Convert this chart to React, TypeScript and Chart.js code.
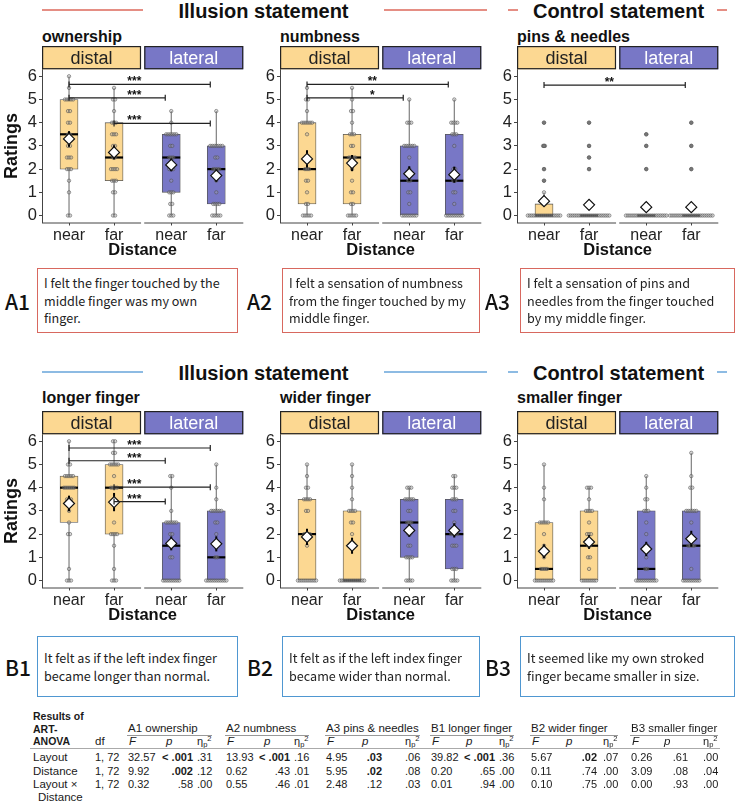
import { useEffect, useRef } from 'react';
import { Chart, registerables } from 'chart.js';

Chart.register(...registerables);

const FONT = "'Liberation Sans', Arial, Helvetica, sans-serif";
const JP_FONT = "'Noto Sans CJK JP', 'Noto Sans', sans-serif";

const DISTAL = '#FCD892';
const LATERAL = '#7877C6';
const RED = '#D8685F';
const RED_LINE = '#E58E84';
const BLUE = '#4F97D1';
const BLUE_LINE = '#8DBBE3';

// Two facets (distal | lateral), each with a near and a far condition
const layoutLabels = ['distal', 'lateral'];
const distanceLabels = ['near', 'far', 'near', 'far'];
const ratingTicks = [0, 1, 2, 3, 4, 5, 6];
const xPositions = [1, 2, 3.27, 4.27];
const facetRanges = [
  [0.4, 2.6],
  [2.67, 4.87],
];

// Ratings, 25 participants per condition
const ownershipDistalNear = [0, 0, 1, 1.5, 2, 2, 2, 2.5, 2.5, 2.5, 3, 3, 3.5, 3.5, 4, 4, 4.5, 4.5, 5, 5, 5, 5, 5, 5.5, 6];
const ownershipDistalFar = [0, 0, 1, 1, 1.5, 1.5, 1.5, 2, 2, 2, 2, 2.5, 2.5, 3, 3, 3.5, 3.5, 3.5, 4, 4, 4, 4.5, 5, 5, 5.5];
const ownershipLateralNear = [0, 0, 0, 0.5, 0.5, 1, 1, 1, 1.5, 2, 2, 2, 2.5, 2.5, 2.5, 3, 3, 3.5, 3.5, 3.5, 3.5, 3.5, 3.5, 4, 4.5];
const ownershipLateralFar = [0, 0, 0, 0, 0, 0.5, 0.5, 0.5, 0.5, 1, 1.5, 2, 2, 2, 2, 2.5, 2.5, 3, 3, 3, 3, 3, 3, 3, 4.5];

const numbnessDistalNear = [0, 0, 0, 0, 0, 0.5, 0.5, 1, 1.5, 1.5, 2, 2, 2, 2.5, 3.5, 4, 4, 4, 4, 4, 4, 4.5, 5, 5, 5.5];
const numbnessDistalFar = [0, 0, 0, 0, 0, 0.5, 0.5, 1, 1, 1.5, 2, 2.5, 2.5, 2.5, 2.5, 3, 3, 3.5, 3.5, 3.5, 4, 4.5, 4.5, 5, 5.5];
const numbnessLateralNear = [0, 0, 0, 0, 0, 0, 0, 0, 0.5, 1, 1, 1.5, 1.5, 2, 2.5, 3, 3, 3, 3, 3, 3, 4, 4, 4, 5];
const numbnessLateralFar = [0, 0, 0, 0, 0, 0, 0, 0, 0, 0.5, 1, 1, 1.5, 1.5, 2, 2, 3, 3.5, 3.5, 3.5, 4, 4, 4, 4, 5];

const pinsDistalNear = [0, 0, 0, 0, 0, 0, 0, 0, 0, 0, 0, 0, 0, 0, 0, 0, 0, 0.5, 0.5, 1, 1.5, 2, 3, 3, 4];
const pinsDistalFar = [0, 0, 0, 0, 0, 0, 0, 0, 0, 0, 0, 0, 0, 0, 0, 0, 0, 0, 0, 0, 0, 2, 2.5, 3, 4];
const pinsLateralNear = [0, 0, 0, 0, 0, 0, 0, 0, 0, 0, 0, 0, 0, 0, 0, 0, 0, 0, 0, 0, 0, 0.5, 2, 3, 3.5];
const pinsLateralFar = [0, 0, 0, 0, 0, 0, 0, 0, 0, 0, 0, 0, 0, 0, 0, 0, 0, 0, 0, 0, 0, 0, 2, 3, 4];

const longerDistalNear = [0, 0, 0, 0.5, 2, 2, 2.5, 3, 3.5, 3.5, 3.5, 4, 4, 4, 4, 4, 4, 4.5, 4.5, 4.5, 4.5, 4.5, 5, 5, 6];
const longerDistalFar = [0, 0, 0, 0.5, 1.5, 2, 2, 2, 2, 2.5, 3.5, 4, 4, 4, 4, 4.5, 5, 5, 5, 5, 5, 5.5, 5.5, 6, 6];
const longerLateralNear = [0, 0, 0, 0, 0, 0, 0, 0, 0, 1, 1, 1.5, 1.5, 2, 2, 2.5, 2.5, 2.5, 2.5, 2.5, 2.5, 3, 4, 4.5, 4.5];
const longerLateralFar = [0, 0, 0, 0, 0, 0, 0, 0, 0, 0, 0, 1, 1, 2, 2.5, 2.5, 3, 3, 3, 3, 3, 3, 3.5, 4, 5];

const widerDistalNear = [0, 0, 0, 0, 0, 0, 0, 0, 0, 0, 1.5, 2, 2, 2, 2, 3, 3, 3.5, 3.5, 3.5, 3.5, 4, 4, 4.5, 5];
const widerDistalFar = [0, 0, 0, 0, 0, 0, 0, 0, 0, 0, 0, 0, 0, 1.5, 2, 2.5, 2.5, 3, 3, 3, 3, 3.5, 4, 4.5, 5];
const widerLateralNear = [0, 0, 0, 0, 1, 1, 1, 1, 1.5, 1.5, 2, 2, 2.5, 2.5, 2.5, 3, 3, 3.5, 3.5, 3.5, 3.5, 3.5, 4, 4, 4];
const widerLateralFar = [0, 0, 0, 0, 0.5, 0.5, 0.5, 1.5, 1.5, 1.5, 2, 2, 2, 2, 2.5, 3, 3, 3.5, 3.5, 3.5, 4, 4, 4, 4.5, 4.5];

const smallerDistalNear = [0, 0, 0, 0, 0, 0, 0, 0, 0, 0, 0.5, 0.5, 0.5, 0.5, 1, 1.5, 2, 2.5, 2.5, 2.5, 2.5, 2.5, 3.5, 4, 5];
const smallerDistalFar = [0, 0, 0, 0, 0, 0, 0, 0, 0.5, 1, 1, 1.5, 1.5, 2, 2, 2, 2.5, 3, 3, 3, 3, 3.5, 4, 4, 4];
const smallerLateralNear = [0, 0, 0, 0, 0, 0, 0, 0, 0, 0, 0, 0.5, 0.5, 1, 1.5, 1.5, 2, 2.5, 3, 3, 3, 3.5, 3.5, 4, 4.5];
const smallerLateralFar = [0, 0, 0, 0, 0, 0, 0, 0, 0, 0.5, 1.5, 1.5, 1.5, 1.5, 2.5, 3, 3, 3, 3, 3, 3, 4, 4, 4.5, 5.5];

type Bracket = { from: number; to: number; y: number; label: string };

// Pairwise comparisons (condition indices, bracket height in rating units)
const ownershipBrackets: Bracket[] = [
  { from: 0, to: 3, y: 5.65, label: '***' },
  { from: 0, to: 2, y: 5.07, label: '***' },
  { from: 1, to: 3, y: 3.97, label: '***' },
];
const numbnessBrackets: Bracket[] = [
  { from: 0, to: 3, y: 5.65, label: '**' },
  { from: 0, to: 2, y: 5.07, label: '*' },
];
const pinsBrackets: Bracket[] = [{ from: 0, to: 3, y: 5.62, label: '**' }];
const longerBrackets: Bracket[] = [
  { from: 0, to: 3, y: 5.71, label: '***' },
  { from: 0, to: 2, y: 5.16, label: '***' },
  { from: 1, to: 3, y: 4.02, label: '***' },
  { from: 1, to: 2, y: 3.4, label: '***' },
];

type PanelDef = { title: string; series: number[][]; brackets: Bracket[] };

const panelsA: PanelDef[] = [
  { title: 'ownership', series: [ownershipDistalNear, ownershipDistalFar, ownershipLateralNear, ownershipLateralFar], brackets: ownershipBrackets },
  { title: 'numbness', series: [numbnessDistalNear, numbnessDistalFar, numbnessLateralNear, numbnessLateralFar], brackets: numbnessBrackets },
  { title: 'pins & needles', series: [pinsDistalNear, pinsDistalFar, pinsLateralNear, pinsLateralFar], brackets: pinsBrackets },
];
const panelsB: PanelDef[] = [
  { title: 'longer finger', series: [longerDistalNear, longerDistalFar, longerLateralNear, longerLateralFar], brackets: longerBrackets },
  { title: 'wider finger', series: [widerDistalNear, widerDistalFar, widerLateralNear, widerLateralFar], brackets: [] },
  { title: 'smaller finger', series: [smallerDistalNear, smallerDistalFar, smallerLateralNear, smallerLateralFar], brackets: [] },
];

const statementLabelsA = ['A1', 'A2', 'A3'];
const statementLabelsB = ['B1', 'B2', 'B3'];
const statementsA = [
  'I felt the finger touched by the\nmiddle finger was my own\nfinger.',
  'I felt a sensation of numbness\nfrom the finger touched by my\nmiddle finger.',
  'I felt a sensation of pins and\nneedles from the finger touched\nby my middle finger.',
];
const statementsB = [
  'It felt as if the left index finger\nbecame longer than normal.',
  'It felt as if the left index finger\nbecame wider than normal.',
  'It seemed like my own stroked\nfinger became smaller in size.',
];

// ART-ANOVA results
const anovaMeasures = ['A1 ownership', 'A2 numbness', 'A3 pins & needles', 'B1 longer finger', 'B2 wider finger', 'B3 smaller finger'];
const anovaEffects = ['Layout', 'Distance', 'Layout ×'];
const anovaDf = ['1, 72', '1, 72', '1, 72'];
const anovaF = [
  ['32.57', '9.92', '0.32'],
  ['13.93', '0.62', '0.55'],
  ['4.95', '5.95', '2.48'],
  ['39.82', '0.20', '0.01'],
  ['5.67', '0.11', '0.10'],
  ['0.26', '3.09', '0.00'],
];
const anovaP = [
  ['< .001', '.002', '.58'],
  ['< .001', '.43', '.46'],
  ['.03', '.02', '.12'],
  ['< .001', '.65', '.94'],
  ['.02', '.74', '.75'],
  ['.61', '.08', '.93'],
];
const anovaEta = [
  ['.31', '.12', '.00'],
  ['.16', '.01', '.01'],
  ['.06', '.08', '.03'],
  ['.36', '.00', '.00'],
  ['.07', '.00', '.00'],
  ['.00', '.04', '.00'],
];

// geometry
const Y_AXIS_W = 42;
const CHART_W = 202;
const CANVAS_W = 250;
const CANVAS_H = 218;
const STRIP_H = 23.3;
const SWARM_STEP = 0.045;
const PANEL_LEFTS = [42, 280, 517];

function quantile(sorted: number[], p: number) {
  const h = (sorted.length - 1) * p;
  const lo = Math.floor(h);
  const hi = Math.ceil(h);
  return sorted[lo] + (h - lo) * (sorted[hi] - sorted[lo]);
}

function boxStats(values: number[]) {
  const s = [...values].sort((a, b) => a - b);
  const q1 = quantile(s, 0.25);
  const med = quantile(s, 0.5);
  const q3 = quantile(s, 0.75);
  const iqr = q3 - q1;
  const inside = s.filter((v) => v >= q1 - 1.5 * iqr && v <= q3 + 1.5 * iqr);
  const outliers = s.filter((v) => v < q1 - 1.5 * iqr || v > q3 + 1.5 * iqr);
  const mean = s.reduce((a, b) => a + b, 0) / s.length;
  const sd = Math.sqrt(s.reduce((a, b) => a + (b - mean) ** 2, 0) / (s.length - 1));
  return { q1, med, q3, lo: Math.min(...inside), hi: Math.max(...inside), outliers, mean, se: sd / Math.sqrt(s.length) };
}

// rows of equal ratings spread sideways around the condition centre
function swarm(values: number[], center: number) {
  const counts = new Map<number, number>();
  values.forEach((v) => counts.set(v, (counts.get(v) || 0) + 1));
  const pts: { x: number; y: number }[] = [];
  counts.forEach((k, v) => {
    for (let i = 0; i < k; i++) pts.push({ x: center + (i - (k - 1) / 2) * SWARM_STEP, y: v });
  });
  return pts;
}

function BoxPanel({ chartLeft, top, def, yTitle }: { chartLeft: number; top: number; def: PanelDef; yTitle: boolean }) {
  const ref = useRef<HTMLCanvasElement | null>(null);

  useEffect(() => {
    const canvas = ref.current;
    if (!canvas) return;
    const stats = def.series.map(boxStats);
    const fills = [DISTAL, DISTAL, LATERAL, LATERAL];
    const swarmPts = def.series.flatMap((vals, i) => swarm(vals, xPositions[i]));
    const outlierPts = stats.flatMap((s, i) => s.outliers.map((v) => ({ x: xPositions[i], y: v })));
    const meanPts = stats.map((s, i) => ({ x: xPositions[i], y: s.mean }));

    const parts = {
      id: 'boxParts',
      beforeDatasetsDraw(chart: any) {
        const { ctx, scales } = chart;
        const { x, y } = scales;
        ctx.save();
        ctx.strokeStyle = '#666';
        ctx.lineWidth = 1;
        stats.forEach((s, i) => {
          const px = x.getPixelForValue(xPositions[i]);
          ctx.beginPath();
          ctx.moveTo(px, y.getPixelForValue(s.q3));
          ctx.lineTo(px, y.getPixelForValue(s.hi));
          ctx.moveTo(px, y.getPixelForValue(s.q1));
          ctx.lineTo(px, y.getPixelForValue(s.lo));
          ctx.stroke();
        });
        ctx.restore();
      },
      beforeDatasetDraw(chart: any, args: any) {
        const { ctx, scales } = chart;
        const { x, y } = scales;
        ctx.save();
        if (args.index === 1) {
          ctx.strokeStyle = '#000';
          ctx.lineWidth = 2.2;
          stats.forEach((s, i) => {
            const px = x.getPixelForValue(xPositions[i]);
            const py = y.getPixelForValue(s.med);
            ctx.beginPath();
            ctx.moveTo(px - 9, py);
            ctx.lineTo(px + 9, py);
            ctx.stroke();
          });
        }
        if (args.index === 3) {
          ctx.strokeStyle = '#000';
          ctx.lineWidth = 2;
          stats.forEach((s, i) => {
            const px = x.getPixelForValue(xPositions[i]);
            ctx.beginPath();
            ctx.moveTo(px, y.getPixelForValue(s.mean - s.se));
            ctx.lineTo(px, y.getPixelForValue(s.mean + s.se));
            ctx.stroke();
          });
        }
        ctx.restore();
      },
      afterDatasetsDraw(chart: any) {
        const { ctx, scales } = chart;
        const { x, y } = scales;
        ctx.save();
        ctx.strokeStyle = '#222';
        ctx.fillStyle = '#111';
        ctx.lineWidth = 1.2;
        ctx.font = `bold 12px ${FONT}`;
        ctx.textAlign = 'center';
        ctx.textBaseline = 'alphabetic';
        def.brackets.forEach((b) => {
          const x1 = x.getPixelForValue(xPositions[b.from]);
          const x2 = x.getPixelForValue(xPositions[b.to]) - 6;
          const py = y.getPixelForValue(b.y);
          ctx.beginPath();
          ctx.moveTo(x1, py);
          ctx.lineTo(x2, py);
          ctx.moveTo(x1, py - 3);
          ctx.lineTo(x1, py + 3);
          ctx.moveTo(x2, py - 3);
          ctx.lineTo(x2, py + 3);
          ctx.stroke();
          ctx.fillText(b.label, x.getPixelForValue(2.45), py + 1);
        });
        ctx.restore();
      },
      afterDraw(chart: any) {
        const { ctx, scales, chartArea } = chart;
        const { x } = scales;
        ctx.save();
        // bottom axis line, broken between the facets
        ctx.strokeStyle = '#444';
        ctx.lineWidth = 1;
        facetRanges.forEach(([a, b]) => {
          ctx.beginPath();
          ctx.moveTo(x.getPixelForValue(a), chartArea.bottom + 0.5);
          ctx.lineTo(x.getPixelForValue(b), chartArea.bottom + 0.5);
          ctx.stroke();
        });
        // facet strips
        facetRanges.forEach(([a, b], k) => {
          const l = x.getPixelForValue(a);
          const r = x.getPixelForValue(b);
          const t = chartArea.top - STRIP_H;
          ctx.fillStyle = k === 0 ? DISTAL : LATERAL;
          ctx.fillRect(l, t, r - l, STRIP_H);
          ctx.strokeStyle = '#222';
          ctx.lineWidth = 1.2;
          ctx.strokeRect(l + 0.6, t + 0.6, r - l - 1.2, STRIP_H - 1.2);
          ctx.fillStyle = k === 0 ? '#222' : '#fff';
          ctx.font = `18px ${FONT}`;
          ctx.textAlign = 'center';
          ctx.textBaseline = 'middle';
          ctx.fillText(layoutLabels[k], (l + r) / 2, t + STRIP_H / 2 + 1);
        });
        ctx.restore();
      },
    };

    const chart = new Chart(canvas, {
      type: 'bar',
      data: {
        datasets: [
          {
            type: 'bar',
            data: stats.map((s, i) => ({ x: xPositions[i], y: [s.q1, s.q3] })) as any,
            backgroundColor: fills,
            borderColor: '#555',
            borderWidth: 0.8,
            borderSkipped: false,
            barThickness: 18,
            order: 4,
          },
          {
            type: 'scatter',
            data: swarmPts,
            pointRadius: 1.7,
            backgroundColor: 'rgba(170,170,170,0.35)',
            borderColor: 'rgba(80,80,80,0.8)',
            borderWidth: 0.7,
            order: 3,
          },
          {
            type: 'scatter',
            data: outlierPts,
            pointRadius: 1.8,
            backgroundColor: '#777',
            borderColor: '#555',
            borderWidth: 0.5,
            order: 2,
          },
          {
            type: 'scatter',
            data: meanPts,
            pointStyle: 'rectRot',
            pointRadius: 5.5,
            backgroundColor: '#fff',
            borderColor: '#111',
            borderWidth: 1.2,
            order: 1,
          },
        ] as any,
      },
      options: {
        responsive: false,
        animation: false,
        events: [],
        layout: { padding: { left: 0, right: CANVAS_W - Y_AXIS_W - CHART_W, top: 25.3, bottom: 0 } },
        plugins: { legend: { display: false }, tooltip: { enabled: false } },
        scales: {
          x: {
            type: 'linear',
            min: 0.4,
            max: 4.87,
            bounds: 'data',
            offset: false,
            afterBuildTicks: (s: any) => {
              s.ticks = xPositions.map((v) => ({ value: v }));
            },
            afterFit: (s: any) => {
              s.height = 39.5;
            },
            grid: { drawOnChartArea: false, drawTicks: true, tickLength: 3, color: '#444', offset: false },
            border: { display: false },
            ticks: {
              autoSkip: false,
              maxRotation: 0,
              padding: 0.5,
              color: '#222',
              font: { family: FONT, size: 16 },
              callback: (_v: any, i: number) => distanceLabels[i],
            },
            title: {
              display: true,
              text: 'Distance',
              color: '#111',
              font: { family: FONT, size: 16.5, weight: 'bold' },
              padding: { top: 0, bottom: 2 },
            },
          },
          y: {
            type: 'linear',
            min: -0.3,
            max: 6.3,
            bounds: 'data',
            afterBuildTicks: (s: any) => {
              s.ticks = ratingTicks.map((v) => ({ value: v }));
            },
            afterFit: (s: any) => {
              s.width = Y_AXIS_W;
            },
            grid: { drawOnChartArea: false, drawTicks: true, tickLength: 3, color: '#444' },
            border: { display: true, color: '#444', width: 1 },
            ticks: { padding: 2, color: '#222', font: { family: FONT, size: 16.5 } },
            title: {
              display: yTitle,
              text: 'Ratings',
              color: '#111',
              font: { family: FONT, size: 18, weight: 'bold' },
              padding: { top: 1, bottom: 0 },
            },
          },
        },
      } as any,
      plugins: [parts],
    });
    return () => chart.destroy();
  }, [def, yTitle]);

  return (
    <canvas
      ref={ref}
      width={CANVAS_W}
      height={CANVAS_H}
      style={{ position: 'absolute', left: chartLeft - Y_AXIS_W, top, width: CANVAS_W, height: CANVAS_H }}
    />
  );
}

function SectionHeader({ y, color }: { y: number; color: string }) {
  const line = (left: number, width: number) => (
    <div style={{ position: 'absolute', left, top: y - 0.75, width, height: 1.5, background: color }} />
  );
  const text = (left: number, width: number, label: string) => (
    <div
      style={{
        position: 'absolute',
        left,
        top: y - 10,
        width,
        height: 20,
        lineHeight: '20px',
        textAlign: 'center',
        font: `bold 20px ${FONT}`,
        color: '#111',
        whiteSpace: 'nowrap',
      }}
    >
      {label}
    </div>
  );
  return (
    <>
      {line(42, 101)}
      {text(143, 241, 'Illusion statement')}
      {line(384, 103)}
      {line(508, 10)}
      {text(520, 197, 'Control statement')}
      {line(717, 10)}
    </>
  );
}

function PanelTitle({ left, top, text }: { left: number; top: number; text: string }) {
  return (
    <div
      style={{
        position: 'absolute',
        left,
        top,
        height: 16,
        lineHeight: '16px',
        font: `bold 16px ${FONT}`,
        color: '#111',
        whiteSpace: 'nowrap',
      }}
    >
      {text}
    </div>
  );
}

const boxLefts = [37, 282, 520];
const boxWidths = [201, 198, 215];
const labelLefts = [5, 247, 485];

function Statements({ top, height, labels, texts, color }: { top: number; height: number; labels: string[]; texts: string[]; color: string }) {
  return (
    <>
      {texts.map((t, i) => (
        <div key={i}>
          <div
            style={{
              position: 'absolute',
              left: labelLefts[i],
              top,
              height,
              display: 'flex',
              alignItems: 'center',
              font: `500 21px ${JP_FONT}`,
              color: '#111',
            }}
          >
            {labels[i]}
          </div>
          <div
            style={{
              position: 'absolute',
              left: boxLefts[i],
              top,
              width: boxWidths[i],
              height,
              boxSizing: 'border-box',
              border: `1.5px solid ${color}`,
              display: 'flex',
              alignItems: 'center',
              padding: '0 6px',
              whiteSpace: 'pre',
              overflow: 'hidden',
              font: `12.6px ${JP_FONT}`,
              lineHeight: '17.5px',
              color: '#222',
            }}
          >
            {t}
          </div>
        </div>
      ))}
    </>
  );
}

// table column layout
const anovaGroupX = [128, 226, 326, 431, 531, 631];
const anovaPRight = [193, 290, 382, 495, 597, 688];
const anovaEtaX = [197, 294, 405, 499, 603, 703];
const anovaPHeadX = [166, 264, 362, 466, 566, 664];
const anovaRowY = [757, 770.5, 784];

function Cell({ x, y, text, bold, italic, size = 11, align = 'left' }: { x: number; y: number; text: any; bold?: boolean; italic?: boolean; size?: number; align?: 'left' | 'right' }) {
  const lh = 14;
  const style: any = {
    position: 'absolute',
    top: y - lh / 2,
    height: lh,
    lineHeight: `${lh}px`,
    fontFamily: FONT,
    fontSize: size,
    fontWeight: bold ? 'bold' : 'normal',
    fontStyle: italic ? 'italic' : 'normal',
    color: '#1a1a1a',
    whiteSpace: 'nowrap',
  };
  if (align === 'right') {
    style.left = x - 100;
    style.width = 100;
    style.textAlign = 'right';
  } else {
    style.left = x;
  }
  return <div style={style}>{text}</div>;
}

const etaSymbol = (
  <span>
    η<span style={{ fontSize: 7.5, position: 'relative', top: 2 }}>p</span>
    <span style={{ fontSize: 7.5, position: 'relative', top: -4 }}>2</span>
  </span>
);

function isSignificant(p: string) {
  return p.startsWith('<') || parseFloat(p) < 0.05;
}

function AnovaTable() {
  return (
    <>
      <Cell x={33} y={716} text="Results of" bold size={10.5} />
      <Cell x={33} y={728.5} text="ART-" bold size={10.5} />
      <Cell x={33} y={741} text="ANOVA" bold size={10.5} />
      <Cell x={95} y={741} text="df" size={11.5} />
      {anovaMeasures.map((m, g) => (
        <div key={m}>
          <Cell x={anovaGroupX[g]} y={728} text={m} size={11.5} />
          <div
            style={{
              position: 'absolute',
              left: anovaGroupX[g] - 1,
              top: 735,
              width: anovaEtaX[g] + 16 - anovaGroupX[g],
              height: 1,
              background: '#999',
            }}
          />
          <Cell x={anovaGroupX[g] + 1} y={741} text="F" italic size={11.5} />
          <Cell x={anovaPHeadX[g]} y={741} text="p" italic size={11.5} />
          <Cell x={anovaEtaX[g]} y={741} text={etaSymbol} size={11} />
          {anovaRowY.map((ry, r) => (
            <div key={r}>
              <Cell x={anovaGroupX[g]} y={ry} text={anovaF[g][r]} />
              <Cell x={anovaPRight[g]} y={ry} text={anovaP[g][r]} bold={isSignificant(anovaP[g][r])} align="right" />
              <Cell x={anovaEtaX[g]} y={ry} text={anovaEta[g][r]} />
            </div>
          ))}
        </div>
      ))}
      <div style={{ position: 'absolute', left: 30, top: 748, width: 690, height: 1, background: '#aaa' }} />
      {anovaEffects.map((e, r) => (
        <div key={e}>
          <Cell x={33} y={anovaRowY[r]} text={e} size={11.5} />
          <Cell x={95} y={anovaRowY[r]} text={anovaDf[r]} />
        </div>
      ))}
      <Cell x={38} y={797} text="Distance" size={11.5} />
    </>
  );
}

export default function App() {
  const topRowCanvas = 44;
  const bottomShift = 364.5;
  return (
    <div
      style={{
        position: 'absolute',
        left: 0,
        top: 0,
        width: 737,
        height: 809,
        background: '#fff',
        overflow: 'hidden',
        fontFamily: FONT,
      }}
    >
      <SectionHeader y={10} color={RED_LINE} />
      {panelsA.map((p, i) => (
        <PanelTitle key={p.title} left={PANEL_LEFTS[i]} top={28} text={p.title} />
      ))}
      {panelsA.map((p, i) => (
        <BoxPanel key={p.title} chartLeft={PANEL_LEFTS[i]} top={topRowCanvas} def={p} yTitle={i === 0} />
      ))}
      <Statements top={268} height={65} labels={statementLabelsA} texts={statementsA} color={RED} />

      <SectionHeader y={372} color={BLUE_LINE} />
      {panelsB.map((p, i) => (
        <PanelTitle key={p.title} left={PANEL_LEFTS[i]} top={389} text={p.title} />
      ))}
      {panelsB.map((p, i) => (
        <BoxPanel key={p.title} chartLeft={PANEL_LEFTS[i]} top={topRowCanvas + bottomShift} def={p} yTitle={i === 0} />
      ))}
      <Statements top={636} height={61} labels={statementLabelsB} texts={statementsB} color={BLUE} />

      <AnovaTable />
    </div>
  );
}
